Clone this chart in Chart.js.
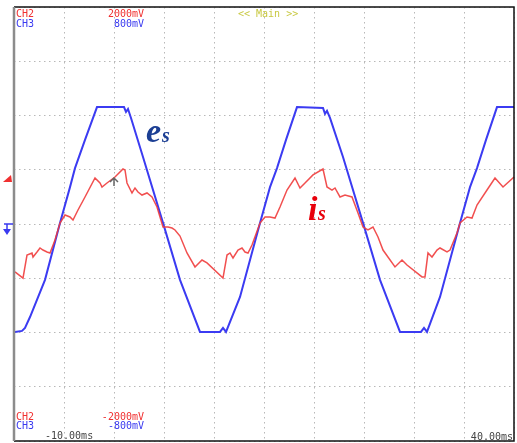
<!DOCTYPE html>
<html>
<head>
<meta charset="utf-8">
<script src="https://cdn.jsdelivr.net/npm/chart.js@4.4.1/dist/chart.umd.min.js"></script>
<style>
  html, body { margin: 0; padding: 0; background: #fff; }
  #wrap { width: 517px; height: 443px; }
</style>
</head>
<body>
<div id="wrap"><canvas id="scope" width="517" height="443"></canvas></div>
<script>
// time base: -10 ms .. 40 ms, 5 ms/div
const tiempoMin = -10, tiempoMax = 40, tiempoDiv = 5;
// CH2 (is) range in mV, CH3 (es) range in mV
const ch2Min = -2000, ch2Max = 2000, ch2Div = 500;
const ch3Min = -800, ch3Max = 800;
const triggerNivel = 424; // mV on CH2
const triggerTiempo = 0;  // ms

// es  (CH3, blue) - time in ms
const esTiempo = [-9.9, -9.2, -8.9, -8.4, -6.9, -5.4, -4.4, -3.9, -2.9, -1.7, -0.4, 1.0, 1.2, 1.4, 1.7, 2.9, 4.9, 6.6, 8.6,
  10.6, 10.9, 11.2, 12.6, 14.6, 15.6, 16.3, 17.2, 18.3, 20.9, 21.1, 21.3, 21.6, 22.9, 24.9, 26.6, 28.6,
  30.7, 31.0, 31.3, 32.6, 34.6, 35.6, 36.3, 37.2, 38.3, 40.0];
// es values in mV
const esValores = [-398, -394, -383, -343, -206, 4, 136, 206, 310, 431, 431, 431, 413, 424, 391, 247, 4, -206, -398,
  -398, -383, -398, -269, 4, 136, 206, 310, 431, 428, 406, 417, 391, 247, 4, -206, -398,
  -398, -383, -398, -269, 4, 136, 206, 310, 431, 431];

// is  (CH2, red) - time in ms
const isTiempo = [-9.9, -9.1, -8.7, -8.2, -8.1, -7.7, -7.4, -7.1, -6.7, -6.4, -5.9, -5.4, -4.9, -4.4, -4.1, -3.6, -2.9, -1.9,
  -1.4, -1.2, -0.7, 0.1, 0.9, 1.1, 1.3, 1.8, 2.1, 2.4, 2.8, 3.3, 3.8, 4.3, 4.9, 5.4, 5.8, 6.1, 6.6, 7.3, 8.1, 8.8, 9.3,
  10.9, 11.3, 11.6, 11.9, 12.4, 12.8, 13.1, 13.4, 13.8, 14.6, 15.1, 15.6, 16.1, 16.6, 17.3, 18.1, 18.6, 19.1, 19.9,
  20.9, 21.3, 21.8, 22.1, 22.6, 23.1, 23.8, 24.4, 24.9, 25.4, 25.9, 26.4, 26.9, 28.1, 28.8, 29.3,
  30.8, 31.1, 31.4, 31.8, 32.3, 32.6, 33.3, 33.6, 34.3, 34.6, 35.3, 35.8, 36.3, 37.3, 38.1, 38.9, 40.0];
// is values in mV
const isValores = [-442, -498, -286, -267, -304, -258, -221, -240, -258, -267, -147, 9, 83, 65, 37, 129, 249, 424,
  378, 341, 378, 433, 507, 498, 378, 286, 332, 295, 267, 286, 249, 157, -28, -28, -37, -55, -111, -267, -396, -332, -359,
  -498, -286, -267, -313, -240, -221, -258, -267, -194, 9, 65, 65, 55, 157, 313, 424, 332, 378, 452,
  507, 341, 313, 332, 249, 267, 249, 101, -28, -55, -28, -120, -240, -396, -332, -378,
  -488, -488, -267, -304, -240, -221, -258, -240, -83, 9, 65, 55, 175, 313, 424, 341, 433];

const etiquetasArriba = [['CH2', '2000mV', '#f03030'], ['CH3', '800mV', '#3a3af0']];
const etiquetasAbajo = [['CH2', '-2000mV', '#f03030'], ['CH3', '-800mV', '#3a3af0']];

const puntos = (ts, vs) => ts.map((t, i) => ({ x: t, y: vs[i] }));

// marco, marcadores y textos del osciloscopio
const pantallaPlugin = {
  id: 'pantalla',
  afterDatasetsDraw(chart) {
    const ctx = chart.ctx;
    const a = chart.chartArea;
    const sx = chart.scales.x, sy = chart.scales.y;
    ctx.save();
    // marco
    ctx.strokeStyle = '#111';
    ctx.lineWidth = 1.5;
    ctx.beginPath();
    ctx.moveTo(a.left, a.top); ctx.lineTo(a.right, a.top);
    ctx.lineTo(a.right, a.bottom); ctx.lineTo(a.left, a.bottom);
    ctx.stroke();
    ctx.strokeStyle = '#8c8c8c';
    ctx.lineWidth = 2.5;
    ctx.beginPath();
    ctx.moveTo(a.left, a.top); ctx.lineTo(a.left, a.bottom);
    ctx.stroke();

    // nivel de disparo (rojo)
    const yTrig = sy.getPixelForValue(triggerNivel);
    ctx.fillStyle = '#f03030';
    ctx.beginPath();
    ctx.moveTo(a.left - 11, yTrig + 4);
    ctx.lineTo(a.left - 2, yTrig + 4);
    ctx.lineTo(a.left - 3, yTrig - 3);
    ctx.closePath();
    ctx.fill();

    // tierra CH3 (azul)
    const yGnd = chart.scales.y3.getPixelForValue(0);
    ctx.strokeStyle = '#3a3af0';
    ctx.fillStyle = '#3a3af0';
    ctx.lineWidth = 1.5;
    ctx.beginPath();
    ctx.moveTo(a.left - 10, yGnd); ctx.lineTo(a.left - 1, yGnd);
    ctx.moveTo(a.left - 7, yGnd); ctx.lineTo(a.left - 7, yGnd + 9);
    ctx.stroke();
    ctx.beginPath();
    ctx.moveTo(a.left - 11, yGnd + 5);
    ctx.lineTo(a.left - 3, yGnd + 5);
    ctx.lineTo(a.left - 7, yGnd + 11);
    ctx.closePath();
    ctx.fill();

    // flecha de disparo
    const xTrig = sx.getPixelForValue(triggerTiempo);
    ctx.strokeStyle = '#666';
    ctx.lineWidth = 1.5;
    ctx.beginPath();
    ctx.moveTo(xTrig, yTrig); ctx.lineTo(xTrig, yTrig + 8);
    ctx.moveTo(xTrig - 4, yTrig + 4); ctx.lineTo(xTrig, yTrig); ctx.lineTo(xTrig + 4, yTrig + 4);
    ctx.stroke();

    // textos
    ctx.font = '10px "DejaVu Sans Mono"';
    ctx.textBaseline = 'top';
    etiquetasArriba.forEach((e, i) => {
      ctx.fillStyle = e[2];
      ctx.textAlign = 'left';
      ctx.fillText(e[0], a.left + 2, a.top + 2 + i * 10);
      ctx.textAlign = 'right';
      ctx.fillText(e[1], a.left + 130, a.top + 2 + i * 10);
    });
    etiquetasAbajo.forEach((e, i) => {
      ctx.fillStyle = e[2];
      ctx.textAlign = 'left';
      ctx.fillText(e[0], a.left + 2, a.bottom - 29 + i * 9);
      ctx.textAlign = 'right';
      ctx.fillText(e[1], a.left + 130, a.bottom - 29 + i * 9);
    });
    ctx.fillStyle = '#c8c840';
    ctx.textAlign = 'left';
    ctx.fillText('<< Main >>', a.left + 224, a.top + 2);
    ctx.fillStyle = '#444';
    ctx.fillText(tiempoMin.toFixed(2) + 'ms', a.left + 31, a.bottom - 10);
    ctx.textAlign = 'right';
    ctx.fillText(tiempoMax.toFixed(2) + 'ms', a.right - 1, a.bottom - 9);

    // nombres de las señales
    ctx.textAlign = 'left';
    ctx.textBaseline = 'alphabetic';
    ctx.fillStyle = '#1c3f94';
    ctx.font = 'italic bold 34px "Liberation Serif"';
    ctx.fillText('e', 146, 142);
    ctx.font = 'italic bold 20px "Liberation Serif"';
    ctx.fillText('s', 162, 142);
    ctx.fillStyle = '#e8000b';
    ctx.font = 'italic bold 34px "Liberation Serif"';
    ctx.fillText('i', 308, 220);
    ctx.font = 'italic bold 20px "Liberation Serif"';
    ctx.fillText('s', 318, 220);
    ctx.restore();
  }
};

const rejilla = {
  color: '#b8b8b8',
  lineWidth: 1,
  drawTicks: false
};

new Chart(document.getElementById('scope'), {
  type: 'line',
  data: {
    datasets: [
      {
        label: 'is',
        data: puntos(isTiempo, isValores),
        yAxisID: 'y',
        borderColor: 'rgba(240,60,60,0.9)',
        borderWidth: 1.5,
        pointRadius: 0,
        tension: 0
      },
      {
        label: 'es',
        data: puntos(esTiempo, esValores),
        yAxisID: 'y3',
        borderColor: '#3b3bf2',
        borderWidth: 2,
        pointRadius: 0,
        tension: 0
      }
    ]
  },
  options: {
    responsive: false,
    animation: false,
    devicePixelRatio: 1,
    layout: { padding: { left: 14, top: 7, right: 3, bottom: 2 } },
    plugins: { legend: { display: false }, tooltip: { enabled: false } },
    scales: {
      x: {
        type: 'linear',
        min: tiempoMin, max: tiempoMax,
        ticks: { display: false, stepSize: tiempoDiv },
        grid: rejilla,
        border: { display: false, dash: [1.5, 3.5] }
      },
      y: {
        min: ch2Min, max: ch2Max,
        ticks: { display: false, stepSize: ch2Div },
        grid: rejilla,
        border: { display: false, dash: [1.5, 3.5] }
      },
      y3: {
        display: false,
        min: ch3Min, max: ch3Max
      }
    }
  },
  plugins: [pantallaPlugin]
});
</script>
</body>
</html>
